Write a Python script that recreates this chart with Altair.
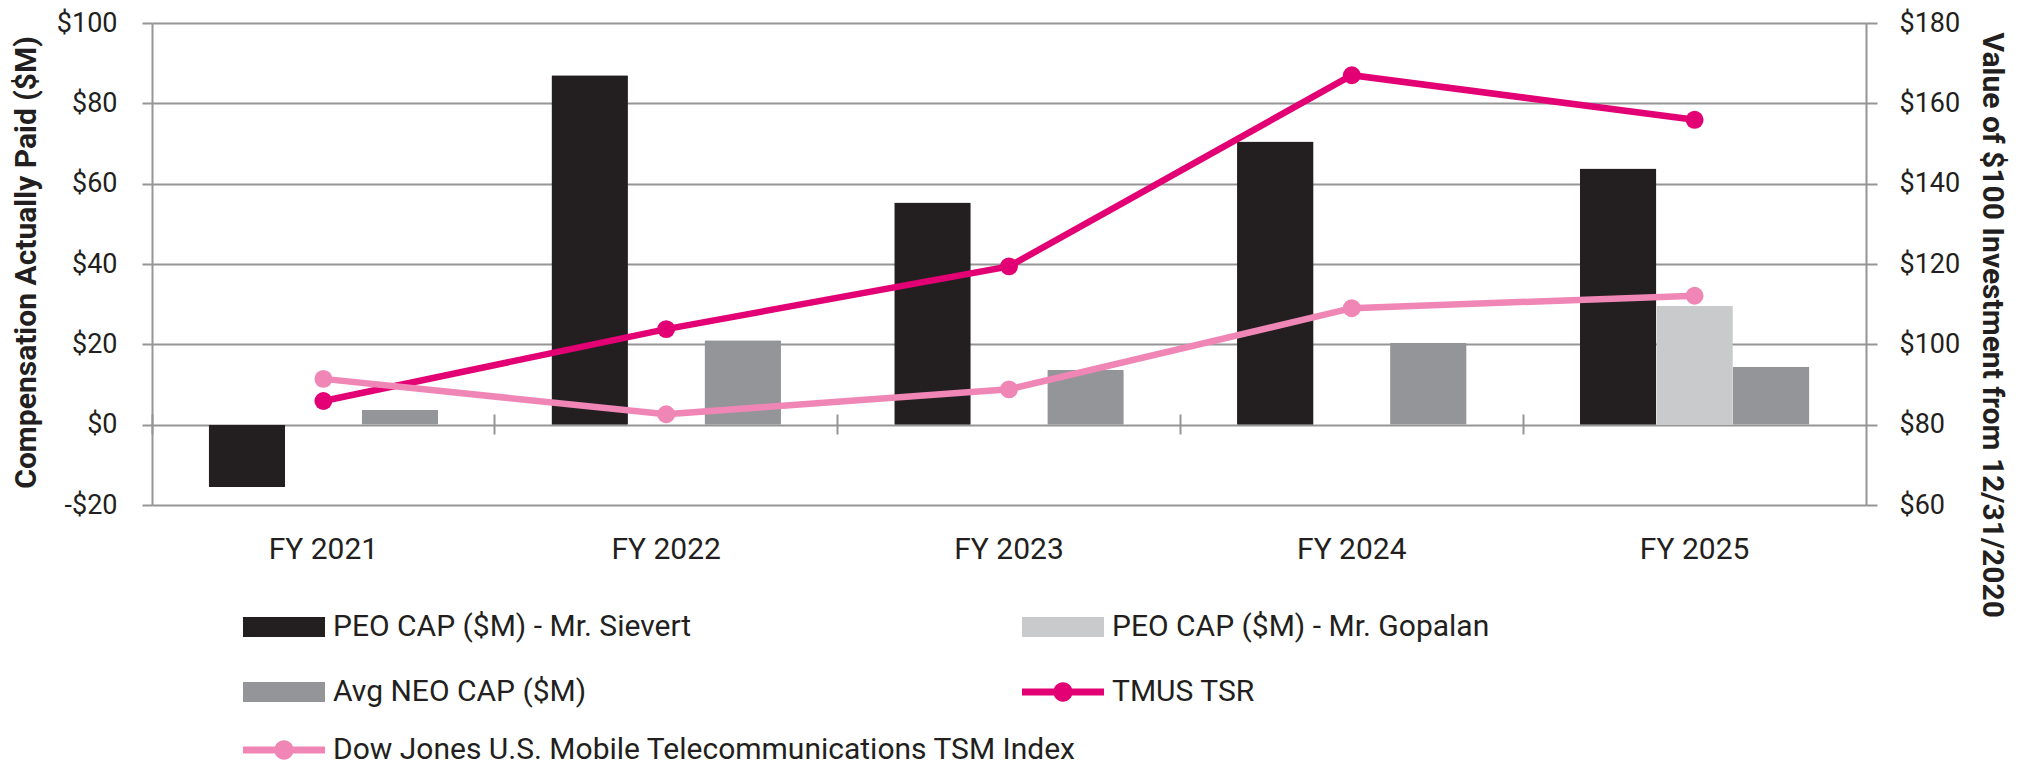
import altair as alt
import pandas as pd

# ---------------- data ----------------
years = ["FY 2021", "FY 2022", "FY 2023", "FY 2024", "FY 2025"]
peo_sievert = [-15.5, 87.0, 55.3, 70.5, 63.8]
peo_gopalan = [None, None, None, None, 29.6]
avg_neo = [3.7, 21.0, 13.6, 20.4, 14.4]
tmus_tsr = [85.9, 103.8, 119.4, 167.0, 155.9]
dj_index = [91.4, 82.6, 88.8, 109.0, 112.1]

bar_series = ["PEO CAP ($M) - Mr. Sievert", "PEO CAP ($M) - Mr. Gopalan", "Avg NEO CAP ($M)"]
line_series = ["TMUS TSR", "Dow Jones U.S. Mobile Telecommunications TSM Index"]
bar_colors = ["#231f20", "#c9cacc", "#939598"]
line_colors = ["#e20074", "#ef86b6"]

left_ticks = [-20, 0, 20, 40, 60, 80, 100]
right_ticks = [60, 80, 100, 120, 140, 160, 180]

# ---------------- tables ----------------
bar_rows = []
for i, y in enumerate(years):
    for s, vals in zip(bar_series, [peo_sievert, peo_gopalan, avg_neo]):
        if vals[i] is not None:
            bar_rows.append({"year": y, "series": s, "value": vals[i]})
bar_df = pd.DataFrame(bar_rows)

line_rows = []
for s, vals in zip(line_series, [tmus_tsr, dj_index]):
    for i, y in enumerate(years):
        line_rows.append({"year": y, "series": s, "value": vals[i]})
line_df = pd.DataFrame(line_rows)

FONT = "Roboto"
TXT = "#231f20"
GRID = "#959595"

RECT = "M-1,-0.244H1V0.244H-1Z"
LINEDOT = ("M-1,-0.085H-0.2V0.085H-1Z M0.2,-0.085H1V0.085H0.2Z "
           "M-0.235,0A0.235,0.235 0 1,1 0.235,0A0.235,0.235 0 1,1 -0.235,0Z")

# legend entries: (name, colour, symbol, column, row)
legend_entries = [
    (bar_series[0], bar_colors[0], RECT, 0, 0),
    (bar_series[1], bar_colors[1], RECT, 1, 0),
    (bar_series[2], bar_colors[2], RECT, 0, 1),
    (line_series[0], line_colors[0], LINEDOT, 1, 1),
    (line_series[1], line_colors[1], LINEDOT, 0, 2),
]
legend_cols_x = [91, 870]
legend_rows_y = [563, 628, 686]

x_scale = alt.Scale(domain=years, paddingInner=0, paddingOuter=0)

# ---------------- bars (left axis) ----------------
bars = alt.Chart(bar_df).mark_bar(cornerRadius=1).encode(
    x=alt.X("year:N", sort=years, scale=x_scale,
            axis=alt.Axis(orient="bottom", title=None, domain=False, ticks=False, tickSize=0,
                          grid=False, labelAngle=0, labelPadding=29, labelFont=FONT,
                          labelFontSize=30, labelColor=TXT)),
    xOffset=alt.XOffset("series:N", sort=bar_series,
                        scale=alt.Scale(domain=bar_series, paddingInner=0, paddingOuter=0.74)),
    y=alt.Y("value:Q", scale=alt.Scale(domain=[-20, 100], nice=False),
            axis=alt.Axis(values=left_ticks,
                          labelExpr="datum.value < 0 ? '-$' + abs(datum.value) : '$' + datum.value",
                          title="Compensation Actually Paid ($M)", grid=True, gridColor=GRID,
                          gridWidth=2, domainColor=GRID, domainWidth=2, tickColor=GRID,
                          tickWidth=2, tickSize=10, labelPadding=25, labelFont=FONT,
                          labelFontSize=27, labelColor=TXT, titleFont=FONT, titleFontSize=30,
                          titleFontWeight="bold", titleColor=TXT, titleAngle=-90,
                          titleAlign="center", titleBaseline="alphabetic",
                          titleX=-117, titleY=239)),
    color=alt.Color("series:N", scale=alt.Scale(domain=bar_series, range=bar_colors), legend=None),
)

# ---------------- lines (right axis) ----------------
line_x = alt.X("year:N", sort=years, scale=x_scale,
               axis=alt.Axis(orient="bottom", title=None, labels=False, domain=False, ticks=True,
                             tickSize=20, tickColor=GRID, tickWidth=2, offset=-91,
                             bandPosition=0, grid=False))
line_y = alt.Y("value:Q", scale=alt.Scale(domain=[60, 180], nice=False, zero=False),
               axis=alt.Axis(orient="right", values=right_ticks, labelExpr="'$' + datum.value",
                             title="Value of $100 Investment from 12/31/2020", grid=False,
                             domainColor=GRID, domainWidth=2, tickColor=GRID, tickWidth=2,
                             tickSize=11, labelPadding=22, labelFont=FONT, labelFontSize=27,
                             labelColor=TXT, titleFont=FONT, titleFontSize=30,
                             titleFontWeight="bold", titleColor=TXT, titleAngle=90,
                             titleAlign="left", titleBaseline="alphabetic",
                             titleX=116, titleY=9))
line_color = alt.Color("series:N", scale=alt.Scale(domain=line_series, range=line_colors),
                       legend=None)

lines = alt.layer(
    alt.Chart(line_df).mark_line(strokeWidth=6.5).encode(x=line_x, y=line_y, color=line_color),
    alt.Chart(line_df).mark_point(filled=True, size=320, opacity=1).encode(
        x=line_x, y=line_y, color=line_color),
)

# ---------------- legends: one invisible layer per entry ----------------
legend_layers = []
for name, col, shp, c, r in legend_entries:
    leg = alt.Legend(
        orient="none", legendX=legend_cols_x[c], legendY=legend_rows_y[r],
        symbolSize=6724, symbolOpacity=1, symbolStrokeWidth=0,
        labelFont=FONT, labelFontSize=30, labelColor=TXT, labelOffset=8,
        labelLimit=2000, title=None, padding=0,
    )
    ldf = pd.DataFrame({"series": [name]})
    legend_layers.append(
        alt.Chart(ldf).mark_point(filled=True, opacity=0, size=10).encode(
            color=alt.Color("series:N", scale=alt.Scale(domain=[name], range=[col]), legend=leg),
            shape=alt.Shape("series:N", scale=alt.Scale(domain=[name], range=[shp]), legend=leg),
        )
    )

chart = alt.layer(bars, lines, *legend_layers).resolve_scale(
    y="independent", color="independent", shape="independent"
).resolve_axis(x="independent").properties(
    width=1714, height=482,
    autosize=alt.AutoSizeParams(type="none"),
    padding={"left": 144, "top": 15, "right": 145, "bottom": 262},
    background="white",
).configure_view(stroke=None)

chart.save("out.html", embed_options={"renderer": "svg", "actions": False})
